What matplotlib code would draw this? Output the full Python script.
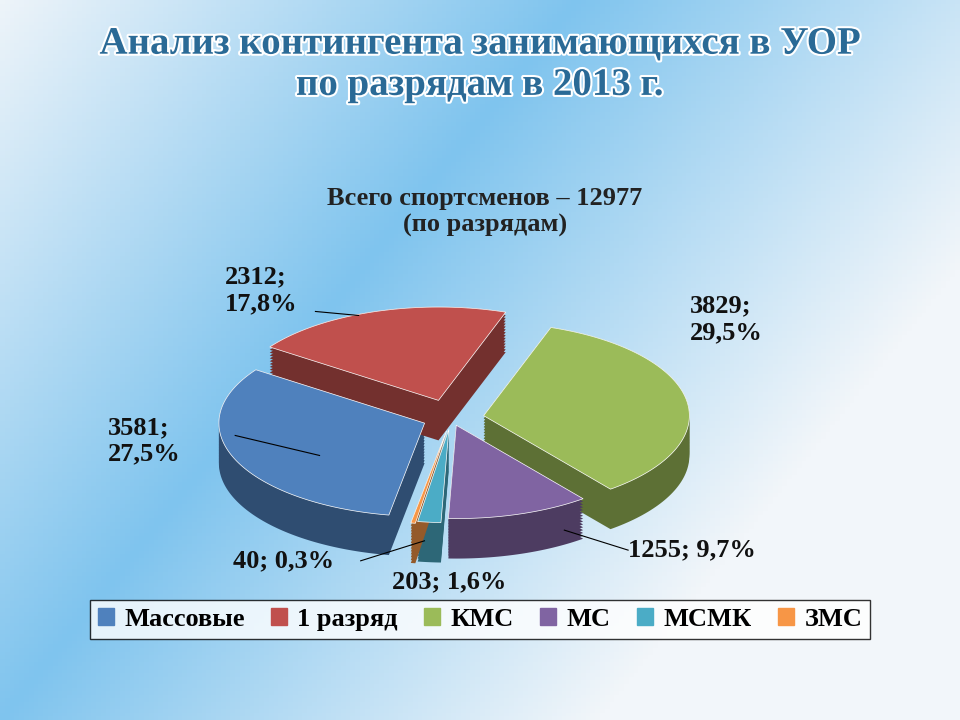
import numpy as np
import matplotlib
matplotlib.use("Agg")
import matplotlib.pyplot as plt
import matplotlib.colors as mc
import matplotlib.patheffects as pe

categories = ["Массовые", "1 разряд", "КМС", "МС", "МСМК", "ЗМС"]
values = [3581, 2312, 3829, 1255, 203, 40]
labels = ["3581;\n27,5%", "2312;\n17,8%", "3829;\n29,5%", "1255; 9,7%", "203; 1,6%", "40; 0,3%"]
colors = ["#4F81BD", "#C0504D", "#9BBB59", "#8064A2", "#4BACC6", "#F79646"]
explode = [0.14, 0.2, 0.16, 0.08, 0.12, 0.14]

plt.rcParams['font.family'] = ['Liberation Serif', 'DejaVu Serif']
fig = plt.figure(figsize=(9.6, 7.2), dpi=100)
bg = fig.add_axes([0, 0, 1, 1])
yy, xx = np.mgrid[0:1:200j, 0:1:200j]
d = xx - 0.6 * yy
t = np.clip(np.abs(d - 0.0) * 1.6, 0, 1)
c1 = np.array(mc.to_rgb("#7FC4EE")); c2 = np.array(mc.to_rgb("#F2F6FA"))
img = c1[None, None, :] * (1 - t[..., None]) + c2[None, None, :] * t[..., None]
bg.imshow(img, extent=[0, 1, 0, 1], aspect='auto', origin='lower')
bg.axis('off')

fig.text(0.5, 0.91, "Анализ контингента занимающихся в УОР\nпо разрядам в 2013 г.", ha='center', va='center',
         fontsize=28, fontweight='bold', color='#2A6A96', linespacing=1.15,
         path_effects=[pe.withStroke(linewidth=3, foreground='white')])
fig.text(0.505, 0.705, "Всего спортсменов – 12977\n(по разрядам)", ha='center', va='center',
         fontsize=19, fontweight='bold', color='#222222')

ax = fig.add_axes([0.17, 0.16, 0.6, 0.5])
ax.set_xlim(-1.4, 1.4); ax.set_ylim(-1.4, 1.3)
ax.axis('off')
sy = 0.7
total = sum(values)
ang = -100.0
depth = 0.3
for v, col, ex in zip(values, colors, explode):
    span = 360 * v / total
    a1, a0 = ang, ang - span
    mid = np.deg2rad((a0 + a1) / 2)
    dx, dy = ex * np.cos(mid), ex * np.sin(mid)
    th = np.linspace(np.deg2rad(a0), np.deg2rad(a1), 100)
    dark = tuple(np.array(mc.to_rgb(col)) * 0.6)
    xs = np.concatenate([[dx], dx + np.cos(th), [dx]])
    ys0 = np.concatenate([[dy], dy + np.sin(th), [dy]]) * sy
    for k in np.linspace(depth, 0, 15):
        ax.fill(xs, ys0 - k, color=dark, ec='none', zorder=1)
    ax.fill(xs, ys0, color=col, ec='white', lw=0.5, zorder=2)
    ang = a0

txtkw = dict(fontsize=19, fontweight='bold', color='#111111')
lk = dict(color='k', lw=0.8)
ax.text(-1.67, -0.17, labels[0], ha='left', va='center', **txtkw)
ax.plot([-1.05, -0.64], [-0.13, -0.28], **lk)
ax.text(-1.1, 0.96, labels[1], ha='left', va='center', **txtkw)
ax.plot([-0.66, -0.45], [0.8, 0.77], **lk)
ax.text(1.16, 0.74, labels[2], ha='left', va='center', **txtkw)
ax.text(0.86, -0.99, labels[3], ha='left', va='center', **txtkw)
ax.plot([0.55, 0.86], [-0.84, -0.99], **lk)
ax.text(-0.29, -1.23, labels[4], ha='left', va='center', **txtkw)
ax.text(-1.06, -1.07, labels[5], ha='left', va='center', **txtkw)
ax.plot([-0.44, -0.13], [-1.07, -0.92], **lk)

handles = [plt.Rectangle((0, 0), 1, 1, color=c) for c in colors]
leg = fig.legend(handles, categories, loc='center', bbox_to_anchor=(0.5, 0.14), ncol=6,
                 frameon=True, fancybox=False, edgecolor='black', handlelength=0.6, handleheight=0.6,
                 columnspacing=1.0, handletextpad=0.4, borderpad=0.3, prop={'size': 19, 'weight': 'bold'})
leg.get_frame().set_facecolor('white')
fig.savefig("out.png", dpi=100)
